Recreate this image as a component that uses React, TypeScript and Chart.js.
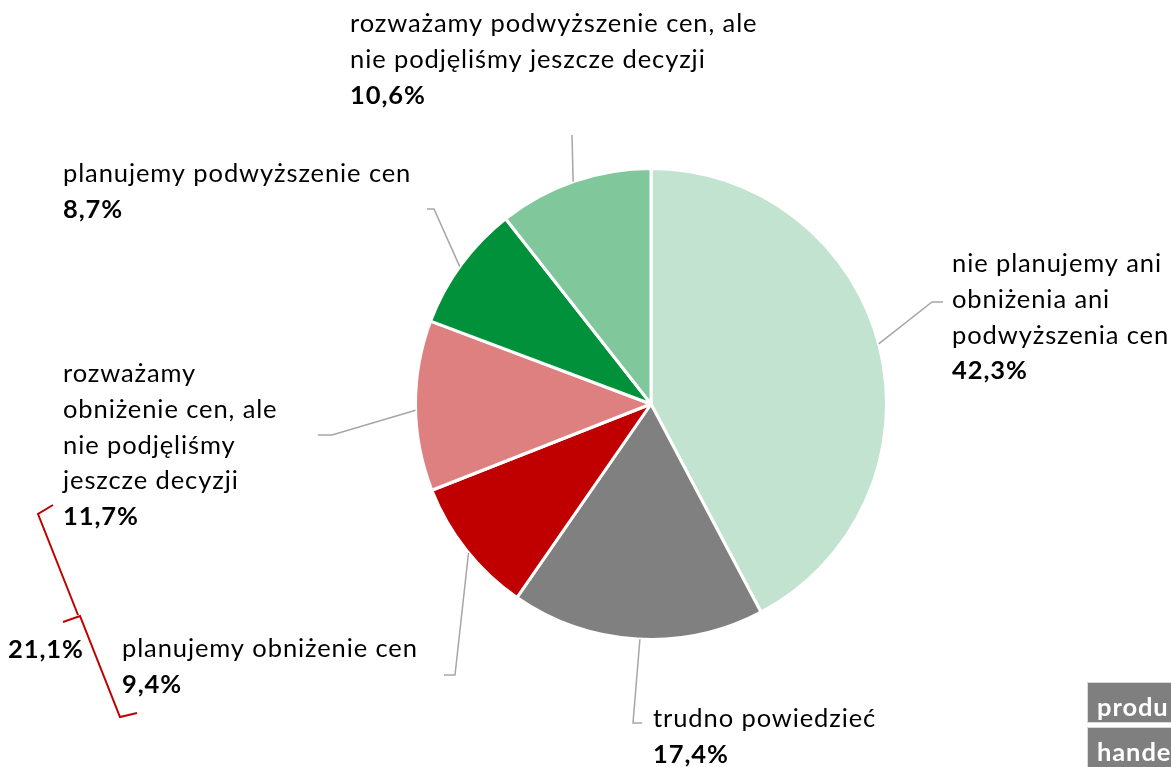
import React, { useEffect, useRef } from "react";
import { Chart, registerables } from "chart.js";

Chart.register(...registerables);

const categories = [
  "nie planujemy ani obniżenia ani podwyższenia cen",
  "trudno powiedzieć",
  "planujemy obniżenie cen",
  "rozważamy obniżenie cen, ale nie podjęliśmy jeszcze decyzji",
  "planujemy podwyższenie cen",
  "rozważamy podwyższenie cen, ale nie podjęliśmy jeszcze decyzji",
];
const values = [42.3, 17.4, 9.4, 11.7, 8.7, 10.6];
const valueLabels = ["42,3%", "17,4%", "9,4%", "11,7%", "8,7%", "10,6%"];
const colors = ["#C1E3CF", "#808080", "#C00000", "#DF8080", "#00913A", "#80C89C"];
const labelLines = [
  ["nie planujemy ani", "obniżenia ani", "podwyższenia cen"],
  ["trudno powiedzieć"],
  ["planujemy obniżenie cen"],
  ["rozważamy", "obniżenie cen, ale", "nie podjęliśmy", "jeszcze decyzji"],
  ["planujemy podwyższenie cen"],
  ["rozważamy podwyższenie cen, ale", "nie podjęliśmy jeszcze decyzji"],
];
const bracketTotal = "21,1%";
const tabLabels = ["produ", "hande"];

// layout (positions only)
const labelPos = [
  { x: 952, y: 272 },
  { x: 653, y: 727 },
  { x: 122, y: 657 },
  { x: 63, y: 382 },
  { x: 63, y: 182 },
  { x: 350, y: 32 },
];
const leaderAngles = [75.2, 182.7, 230.8, 268.5, 305.7, 340.7];
const leaderPaths = [
  [[932, 302], [943, 302]],
  [[633, 723], [642, 723]],
  [[455, 675], [444, 675]],
  [[332, 435], [318, 435]],
  [[434, 209], [427, 209]],
  [[572, 135]],
];
const LINE_H = 35.8;
const FONT = "Lato, 'Open Sans', sans-serif";
const FSIZE = 25.5;
const SPACING = "0.9px";

const overlayPlugin = {
  id: "overlay",
  afterDraw(chart: any) {
    const ctx = chart.ctx as any;
    const meta = chart.getDatasetMeta(0);
    const arc0 = meta.data[0] as any;
    const cx = arc0.x;
    const cy = arc0.y;
    const R = arc0.outerRadius;
    ctx.save();
    // leader lines
    ctx.strokeStyle = "#A6A6A6";
    ctx.lineWidth = 1.5;
    leaderAngles.forEach((deg, i) => {
      const a = (deg * Math.PI) / 180 - Math.PI / 2;
      ctx.beginPath();
      ctx.moveTo(cx + R * Math.cos(a), cy + R * Math.sin(a));
      leaderPaths[i].forEach((p) => ctx.lineTo(p[0], p[1]));
      ctx.stroke();
    });
    // labels
    ctx.fillStyle = "#000000";
    ctx.textBaseline = "alphabetic";
    ctx.textAlign = "left";
    ctx.letterSpacing = SPACING;
    labelLines.forEach((lines, i) => {
      const { x, y } = labelPos[i];
      ctx.font = `${FSIZE}px ${FONT}`;
      lines.forEach((t, k) => ctx.fillText(t, x, y + k * LINE_H));
      ctx.font = `bold ${FSIZE}px ${FONT}`;
      ctx.fillText(valueLabels[i], x, y + lines.length * LINE_H);
    });
    // bracket
    ctx.strokeStyle = "#C00000";
    ctx.lineWidth = 2;
    ctx.lineJoin = "miter";
    ctx.beginPath();
    ctx.moveTo(53, 505);
    ctx.lineTo(38, 514);
    ctx.lineTo(78, 615);
    ctx.stroke();
    ctx.beginPath();
    ctx.moveTo(63, 622);
    ctx.lineTo(80, 616);
    ctx.lineTo(120, 717);
    ctx.lineTo(137, 713);
    ctx.stroke();
    ctx.font = `bold ${FSIZE}px ${FONT}`;
    ctx.fillStyle = "#000000";
    ctx.fillText(bracketTotal, 8, 658);
    // tabs
    const tabs = [
      { y: 682, h: 41, ty: 716 },
      { y: 727, h: 41, ty: 761 },
    ];
    tabs.forEach((t, i) => {
      ctx.fillStyle = "#7F7F7F";
      ctx.fillRect(1087, t.y, 90, t.h);
      ctx.strokeStyle = "#D9D9D9";
      ctx.lineWidth = 1;
      ctx.strokeRect(1087.5, t.y + 0.5, 90, t.h - 1);
      ctx.fillStyle = "#FFFFFF";
      ctx.font = `bold ${FSIZE}px ${FONT}`;
      ctx.fillText(tabLabels[i], 1097, t.ty);
    });
    ctx.restore();
  },
};

export default function App() {
  const ref = useRef<HTMLCanvasElement | null>(null);
  useEffect(() => {
    if (!ref.current) return;
    const chart = new Chart(ref.current, {
      type: "pie",
      data: {
        labels: categories,
        datasets: [
          {
            data: values,
            backgroundColor: colors,
            borderColor: "#FFFFFF",
            borderWidth: 3,
          },
        ],
      },
      options: {
        animation: false,
        responsive: true,
        maintainAspectRatio: false,
        layout: { padding: { left: 414, right: 283, top: 167, bottom: 126 } },
        plugins: {
          legend: { display: false },
          tooltip: { enabled: false },
        },
      },
      plugins: [overlayPlugin],
    });
    return () => chart.destroy();
  }, []);
  return (
    <div style={{ position: "fixed", left: 0, top: 0, width: 1171, height: 767, background: "#fff" }}>
      <canvas ref={ref} />
    </div>
  );
}
